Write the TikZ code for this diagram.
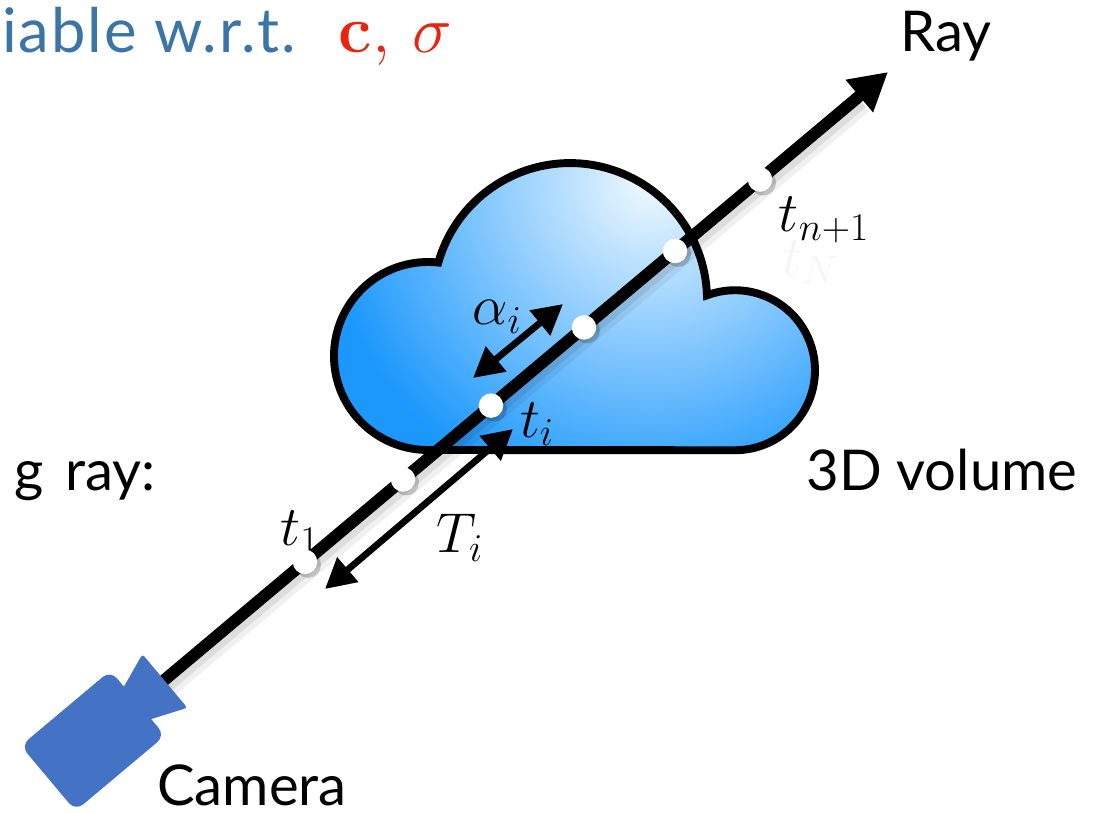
\RequirePackage{fix-cm}
\documentclass[tikz,border=0pt]{standalone}
\usepackage[no-math]{fontspec}
\setmainfont{Lato}
\usetikzlibrary{arrows.meta}

\definecolor{cloudblue}{RGB}{28,152,252}
\definecolor{cloudlight}{RGB}{240,249,255}
\definecolor{camblue}{RGB}{68,114,196}
\definecolor{titleblue}{RGB}{59,117,168}
\definecolor{paramred}{RGB}{232,36,14}

\tikzset{
  txt/.style={font=\fontsize{32}{38}\selectfont},
  sym/.style={font=\fontsize{32}{38}\selectfont},
  sample/.style={circle, fill=white, inner sep=0pt, minimum size=4.9mm},
  sampleshade/.style={circle, fill=black, opacity=0.2, inner sep=0pt, minimum size=5.2mm},
  interval/.style={line width=3.8pt, {Triangle[length=6mm,width=6.2mm]}-{Triangle[length=6mm,width=6.2mm]}},
}

\begin{document}
\begin{tikzpicture}[x=2cm,y=2cm]
    \useasboundingbox (0,0) rectangle (11.04,8.12);

    % text cut off at the left edge
    \node[font=\fontsize{35}{40}\selectfont\addfontfeatures{LetterSpace=3}, anchor=base west, text=titleblue, inner sep=0pt] (title) at (0.02,7.59)
        {iable w.r.t.\kern11pt{} {\fontsize{38}{42}\selectfont$\color{paramred}\mathbf{c},\,\sigma$}};
    \node[txt, anchor=base east, inner sep=0pt] (along) at (1.56,3.22) {g\kern4pt{} ray:};

    % volume
    \draw[line width=4.5pt, fill=cloudblue,
          path picture={\shade[inner color=cloudlight, outer color=cloudblue] (6.5,6.3) circle (3.3);}]
        (4.28,3.62) arc[start angle=270, end angle=83.7, radius=0.94]
                    arc[start angle=164.1, end angle=2, radius=1.37]
                    arc[start angle=110.5, end angle=-90, radius=0.8] -- cycle;
    \node[txt] (vol) at (9.42,3.42) {3D volume};

    \coordinate (cam) at (0.93,0.72);
    \coordinate (tip) at (8.88,7.40);
    \path (cam) -- (tip)
        coordinate[pos=0.2667] (s1)
        coordinate[pos=0.390]  (s2)
        coordinate[pos=0.5006] (s3)
        coordinate[pos=0.6176] (s4)
        coordinate[pos=0.7321] (s5)
        coordinate[pos=0.839]  (s6);

    \node[sym] (t1) at (3.00,2.80) {$t_1$};

    % the ray, with a soft shadow
    \draw[line width=11pt, black, opacity=0.06, shorten >=8mm]
        ([xshift=1.2mm,yshift=-1.2mm]cam) -- ([xshift=1.2mm,yshift=-1.2mm]tip);
    \draw[line width=8pt, black, opacity=0.08, shorten >=8mm]
        ([xshift=0.8mm,yshift=-0.8mm]cam) -- ([xshift=0.8mm,yshift=-0.8mm]tip);
    \draw[line width=6.8pt, -{Triangle[length=7.5mm,width=8mm]}] (cam) -- (tip);
    \node[txt, anchor=base] (ray) at (9.46,7.60) {Ray};

    % samples
    \foreach \s in {s1,s2,s3,s4,s5,s6} {
        \node[sampleshade] at ([xshift=0.6mm,yshift=-0.6mm]\s) {};
        \node[sample] at (\s) {};
    }

    \coordinate (a0) at (4.73,4.34);
    \coordinate (a1) at (5.63,5.08);
    \draw[interval] (a0) -- (a1);
    \node[sym] (alpha) at (4.97,4.95) {$\alpha_i$};

    \coordinate (T0) at (3.25,2.23);
    \coordinate (T1) at (5.13,3.83);
    \draw[interval] (T0) -- (T1);
    \node[sym] (Ti) at (4.60,2.74) {$T_i$};
    \node[sym] (ti) at (5.37,3.88) {$t_i$};

    \node[sym] (tn) at (8.24,5.92) {$t_{n+1}$};
    \node[sym, text=black!4] (tN) at (8.10,5.50) {$t_N$};

    % camera
    \begin{scope}[shift={(cam)}, rotate=40]
        \fill[camblue, rounded corners=2mm] (-0.59,-0.43) rectangle (0.58,0.42);
        \fill[camblue, rounded corners=0.6mm] (0.50,-0.18) -- (0.93,-0.36) -- (0.93,0.34) -- (0.50,0.18) -- cycle;
    \end{scope}
    \node[txt, anchor=base, inner sep=0pt] (camlabel) at (2.52,0.07) {Camera};
\end{tikzpicture}
\end{document}
